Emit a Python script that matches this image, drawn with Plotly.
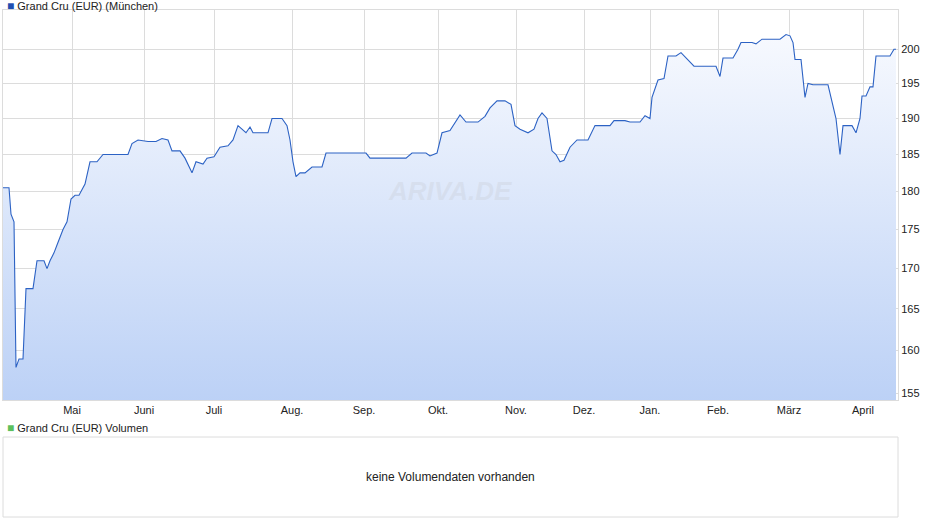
import plotly.graph_objects as go

# horizontal position in chart units (trading-session scale)
t = [3, 9, 11, 14, 16, 19, 23, 26, 33, 37, 44, 47, 50, 54, 57, 60, 63, 67, 71, 75,
     79, 85, 90, 97, 103, 128, 132, 138, 148, 156, 162, 168, 172, 180, 185, 192, 196, 203, 207, 214,
     220, 228, 233, 238, 242, 246, 250, 253, 268, 272, 282, 287, 290, 293, 296, 300, 305, 312, 322, 326,
     366, 370, 406, 412, 426, 430, 437, 442, 450, 455, 460, 466, 478, 485, 490, 497, 505, 511, 515, 520,
     528, 534, 538, 542, 547, 552, 556, 560, 564, 570, 577, 588, 595, 610, 614, 625, 630, 640, 645, 650,
     652, 658, 664, 668, 676, 681, 690, 694, 716, 720, 723, 733, 738, 741, 752, 756, 762, 780, 786, 790,
     793, 795, 801, 805, 808, 813, 828, 834, 836, 840, 843, 852, 856, 860, 862, 866, 870, 873, 876, 882,
     890, 894, 896]
price = [180.5, 180.5, 177, 176, 158, 159, 159, 167.5, 167.5, 171, 171, 170, 171, 172, 173, 174, 175, 176, 179, 179.5,
         179.5, 181, 184, 184, 185, 185, 186.5, 187, 186.8, 186.8, 187.2, 187, 185.5, 185.5, 184.5, 182.5, 184, 183.7, 184.5, 184.7,
         186, 186.2, 187, 189, 188.5, 188, 188.8, 188, 188, 190, 190, 189, 187, 184, 182, 182.5, 182.5, 183.3, 183.3, 185.2,
         185.2, 184.5, 184.5, 185.2, 185.2, 184.8, 185.2, 188, 188.3, 189.5, 190.5, 189.5, 189.5, 190.3, 191.5, 192.5, 192.5, 192, 189, 188.5,
         188, 188.5, 190, 190.8, 190, 185.5, 185, 184, 184.2, 186, 187, 187, 189, 189, 189.7, 189.7, 189.5, 189.5, 190.4, 190,
         193, 195.5, 195.7, 199, 199, 199.5, 198, 197.5, 197.5, 196, 198.7, 198.7, 200, 201, 201, 200.8, 201.5, 201.5, 202.2, 202,
         201, 198.5, 198.5, 193, 195, 194.8, 194.8, 191, 190, 185, 189, 189, 188, 190, 193.2, 193.2, 194.5, 194.5, 199, 199,
         199, 200, 200]

month_pos = [72, 144, 214, 292, 364, 438, 516, 584, 650, 718, 789, 863]
month_labels = ["Mai", "Juni", "Juli", "Aug.", "Sep.", "Okt.", "Nov.", "Dez.", "Jan.", "Feb.", "März", "April"]
y_ticks = [155, 160, 165, 170, 175, 180, 185, 190, 195, 200]

grid = "#dcdcdc"
font = dict(family="Liberation Sans, Arial, sans-serif", size=11, color="#222")

fig = go.Figure()
fig.add_scatter(x=t, y=[150] * len(t), mode="lines", line=dict(width=0),
                showlegend=False, hoverinfo="skip")
fig.add_scatter(
    x=t, y=price, mode="lines", fill="tonexty",
    line=dict(color="#2c62c4", width=1.1),
    fillgradient=dict(type="vertical", start=150, stop=206,
                      colorscale=[[0, "#b6cdf5"], [1, "#fbfcff"]]),
    showlegend=False,
)

fig.update_layout(
    width=940, height=526,
    margin=dict(l=3, r=42, t=0, b=9, autoexpand=False),
    paper_bgcolor="white", plot_bgcolor="white",
    font=font,
    xaxis=dict(range=[3, 898], tickvals=month_pos, ticktext=month_labels,
               showgrid=True, gridcolor=grid, zeroline=False, ticks="", automargin=False,
               showline=True, linecolor=grid, mirror=True, anchor="y"),
    yaxis=dict(type="log", range=[2.18818, 2.31367], tickvals=y_ticks, side="right",
               showgrid=True, gridcolor=grid, ticks="", domain=[0.2263, 0.9807], automargin=False,
               showline=True, linecolor=grid, mirror=True),
)

# volume panel
fig.add_shape(type="rect", xref="paper", yref="paper", x0=0, x1=1, y0=0, y1=0.1547,
              line=dict(color=grid, width=1))
fig.add_annotation(x=0.5, y=0.0774, xref="paper", yref="paper", yshift=-9,
                   text="keine Volumendaten vorhanden", showarrow=False,
                   font=dict(size=12, color="#222"))

# legends
fig.add_annotation(x=0.0, y=0.988, xref="paper", yref="paper", xanchor="left",
                   yanchor="middle", showarrow=False, xshift=2,
                   text="<span style='color:#1f4fb0;font-size:12px'>■</span> Grand Cru (EUR) (München)")
fig.add_annotation(x=0.0, y=0.172, xref="paper", yref="paper", xanchor="left",
                   yanchor="middle", showarrow=False, xshift=2,
                   text="<span style='color:#5cc05c;font-size:12px'>■</span> Grand Cru (EUR) Volumen")

# watermark
fig.add_annotation(x=450, y=2.2555, xref="x", yref="y", text="<i><b>ARIVA.DE</b></i>",
                   showarrow=False, font=dict(size=26, color="rgba(200,205,215,0.35)"))

fig.write_html("out.html", config={"displayModeBar": False},
               post_script="document.body.style.margin='0';")
